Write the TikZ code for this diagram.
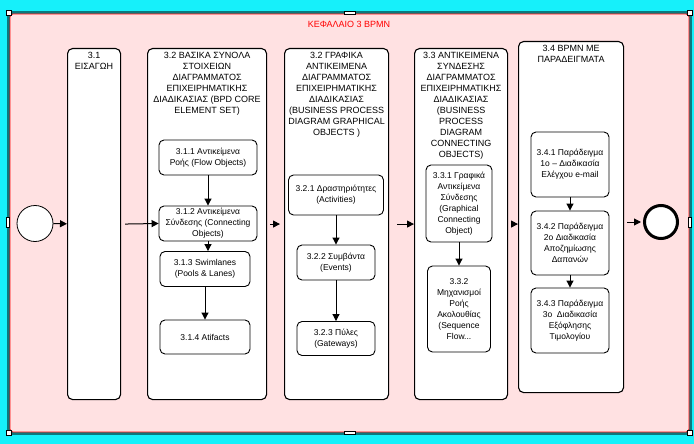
\documentclass[tikz,border=0pt]{standalone}
\usepackage{fontspec}
\setmainfont{Liberation Sans}
\usetikzlibrary{positioning, arrows.meta}
\definecolor{scrcyan}{RGB}{22,240,250}
\definecolor{pagepink}{RGB}{255,225,226}
\definecolor{hatchgrey}{RGB}{12,120,125}

\tikzset{
  colbox/.style={draw, line width=1.1pt, rounded corners=5pt, fill=white, anchor=north west, inner sep=0pt},
  colhead/.style={align=center, inner sep=0pt, font=\fontsize{9}{11}\selectfont},
  subbox/.style={draw, line width=0.9pt, rounded corners=5pt, fill=white, align=center, inner sep=1pt, font=\fontsize{8.5}{11}\selectfont},
  flow/.style={line width=1pt, -{Triangle[length=7pt,width=7pt]}},
  handle/.style={draw, fill=white, line width=0.6pt, inner sep=0pt}
}

\begin{document}
\begin{tikzpicture}[x=1pt, y=-1pt]
  \useasboundingbox (0,0) rectangle (694,444);
  \fill[scrcyan] (0,0) rectangle (694,444);
  \draw[hatchgrey, line width=3pt] (8.5,12.5) rectangle (690.5,433.5);
  \draw[red, fill=pagepink, line width=0.8pt, rounded corners=3pt] (10,14) rectangle (689,432);

  \node[handle, minimum width=11pt, minimum height=3pt] (hn) at (349.5,13) {};
  \node[handle, minimum width=11pt, minimum height=3pt] (hs) at (349.5,432.5) {};
  \node[handle, minimum width=3pt, minimum height=10pt] (hw) at (7.5,222) {};
  \node[handle, minimum width=3pt, minimum height=10pt] (he) at (689.5,222) {};
  \node[handle, minimum size=5pt] (hnw) at (9,13) {};
  \node[handle, minimum size=5pt] (hne) at (689.5,13) {};
  \node[handle, minimum size=5pt] (hsw) at (9,433) {};
  \node[handle, minimum size=5pt] (hse) at (689.5,433) {};

  \node[red, font=\fontsize{9}{10}\selectfont] (title) at (349,24) {ΚΕΦΑΛΑΙΟ 3 BPMN};

  \node[colbox, minimum width=53pt, minimum height=351pt] (c1) at (67,48) {};
  \node[colbox, minimum width=119pt, minimum height=351pt] (c2) at (147,48) {};
  \node[colbox, minimum width=104pt, minimum height=351pt] (c3) at (284,48) {};
  \node[colbox, minimum width=93pt, minimum height=351pt] (c4) at (414,48) {};
  \node[colbox, minimum width=105pt, minimum height=351pt] (c5) at (518,41) {};

  \node[colhead, below=4pt of c1.north] (h1) {3.1\\ΕΙΣΑΓΩΗ};
  \node[colhead, below=4pt of c2.north] (h2) {3.2 ΒΑΣΙΚΑ ΣΥΝΟΛΑ\\ΣΤΟΙΧΕΙΩΝ\\ΔΙΑΓΡΑΜΜΑΤΟΣ\\ΕΠΙΧΕΙΡΗΜΑΤΙΚΗΣ\\ΔΙΑΔΙΚΑΣΙΑΣ (BPD CORE\\ELEMENT SET)};
  \node[colhead, below=4pt of c3.north] (h3) {3.2 ΓΡΑΦΙΚΑ\\ΑΝΤΙΚΕΙΜΕΝΑ\\ΔΙΑΓΡΑΜΜΑΤΟΣ\\ΕΠΙΧΕΙΡΗΜΑΤΙΚΗΣ\\ΔΙΑΔΙΚΑΣΙΑΣ\\(BUSINESS PROCESS\\DIAGRAM GRAPHICAL\\OBJECTS )};
  \node[colhead, below=4pt of c4.north] (h4) {3.3 ΑΝΤΙΚΕΙΜΕΝΑ\\ΣΥΝΔΕΣΗΣ\\ΔΙΑΓΡΑΜΜΑΤΟΣ\\ΕΠΙΧΕΙΡΗΜΑΤΙΚΗΣ\\ΔΙΑΔΙΚΑΣΙΑΣ\\(BUSINESS\\PROCESS\\DIAGRAM\\CONNECTING\\OBJECTS)};
  \node[colhead, below=4pt of c5.north] (h5) {3.4 BPMN ΜΕ\\ΠΑΡΑΔΕΙΓΜΑΤΑ};

  \node[subbox, minimum width=98pt, minimum height=35pt] (b311) at (208,157.5) {3.1.1 Αντικείμενα\\Ροής (Flow Objects)};
  \node[subbox, minimum width=98pt, minimum height=35pt] (b312) at (208,223.5) {3.1.2 Αντικείμενα\\Σύνδεσης (Connecting\\Objects)};
  \node[subbox, minimum width=90pt, minimum height=35pt] (b313) at (205,269) {3.1.3 Swimlanes\\(Pools \& Lanes)};
  \node[subbox, minimum width=90pt, minimum height=34pt] (b314) at (205,337) {3.1.4 Atifacts};

  \node[subbox, minimum width=95pt, minimum height=40pt] (b321) at (336,195) {3.2.1 Δραστηριότητες\\(Activities)};
  \node[subbox, minimum width=78pt, minimum height=35pt] (b322) at (336,262.5) {3.2.2 Συμβάντα\\(Events)};
  \node[subbox, minimum width=78pt, minimum height=34pt] (b323) at (336,338.5) {3.2.3 Πύλες\\(Gateways)};

  \node[subbox, minimum width=66pt, minimum height=77pt] (b331) at (459,203.5) {3.3.1 Γραφικά\\Αντικείμενα\\Σύνδεσης\\(Graphical\\Connecting\\Object)};
  \node[subbox, minimum width=63pt, minimum height=86pt] (b332) at (459,309) {3.3.2\\Μηχανισμοί\\Ροής\\Ακολουθίας\\(Sequence\\Flow...};

  \node[subbox, minimum width=78pt, minimum height=65pt] (b341) at (570,164.5) {3.4.1 Παράδειγμα\\1ο – Διαδικασία\\Ελέγχου e-mail};
  \node[subbox, minimum width=78pt, minimum height=64pt] (b342) at (570,243) {3.4.2 Παράδειγμα\\2ο Διαδικασία\\Αποζημίωσης\\Δαπανών};
  \node[subbox, minimum width=78pt, minimum height=65pt] (b343) at (570,320.5) {3.4.3 Παράδειγμα\\3ο\ \ Διαδικασία\\Εξόφλησης\\Τιμολογίου};

  \node[circle, draw, line width=0.8pt, fill=white, minimum size=36pt] (ev0) at (35,223.5) {};
  \node[circle, draw, line width=3pt, fill=white, minimum size=33pt] (ev1) at (661,222) {};

  \path[flow]
    (ev0) edge (c1)
    ([xshift=4pt]c1.east) edge (b312.west)
    ([xshift=3pt]c2.east) edge ([xshift=-4pt]c3.west)
    ([xshift=8pt]c3.east) edge (c4.west)
    ([xshift=4pt]c4.east) edge (c4.east -| c5.west)
    ([xshift=3pt]c5.east |- ev1) edge ([xshift=-2pt]ev1.west);

  \path[flow]
    (b311) edge (b312)
    (b312.south) edge (b312.south |- b313.north)
    (b313) edge (b314)
    (b321) edge (b322)
    (b322) edge (b323)
    (b331) edge (b332)
    (b341) edge (b342)
    (b342) edge (b343);
\end{tikzpicture}
\end{document}
